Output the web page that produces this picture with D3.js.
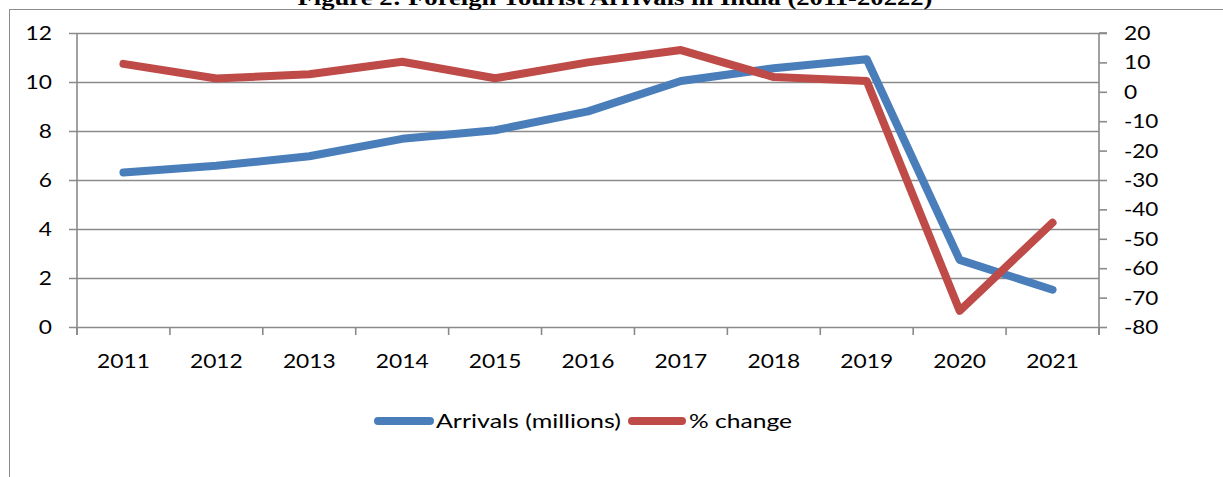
<!DOCTYPE html>
<html><head><meta charset="utf-8">
<script src="https://cdn.jsdelivr.net/npm/d3@7"></script>
<style>
html,body{margin:0;padding:0;background:#fff;}
svg{display:block;}
text{font-family:Lato, "Open Sans", sans-serif;fill:#000;}
</style></head>
<body>
<script>
const years = ["2011","2012","2013","2014","2015","2016","2017","2018","2019","2020","2021"];
const arrivals = [6.31, 6.58, 6.97, 7.68, 8.03, 8.80, 10.04, 10.56, 10.93, 2.74, 1.52];
const pctChange = [9.5, 4.5, 6.0, 10.2, 4.6, 10.0, 14.2, 5.0, 3.7, -74.5, -44.5];
const leftTicks = [0, 2, 4, 6, 8, 10, 12];
const rightTicks = [20, 10, 0, -10, -20, -30, -40, -50, -60, -70, -80];
const titleText = "Figure 2: Foreign Tourist Arrivals in India (2011-20222)";
const seriesNames = ["Arrivals (millions)", "% change"];
const colors = ["#4a7ebb", "#be4b48"];

const W = 1223, H = 477;
const L = 77, R = 1099, T = 33, B = 327;
const gridColor = "#8a8a8a";
const FS = "20px";
const digitW = 13.2;

const svg = d3.select("body").append("svg").attr("width", W).attr("height", H);

// frame
svg.append("rect").attr("x", 9.5).attr("y", 9.5).attr("width", W).attr("height", H)
  .attr("fill", "none").attr("stroke", "#8c8c8c").attr("stroke-width", 1);

// title (clipped at top as in the reference)
svg.append("text").attr("x", 615).attr("y", 5).attr("text-anchor", "middle")
  .style("font-family", "'Liberation Serif', serif").style("font-weight", "bold")
  .style("font-size", "21px").attr("textLength", 635).attr("lengthAdjust", "spacingAndGlyphs")
  .text(titleText);

const x = d3.scaleBand().domain(years).range([L, R]).padding(0);
const yL = d3.scaleLinear().domain([0, 12]).range([B, T]);
const yR = d3.scaleLinear().domain([-80, 20]).range([B, T]);

function fitText(sel) {
  sel.each(function () {
    const s = this.textContent;
    let w = 0;
    for (const c of s) w += (c === "-" ? 8 : digitW);
    d3.select(this).attr("textLength", w).attr("lengthAdjust", "spacingAndGlyphs");
  });
}

// left gridlines + labels
const gL = svg.append("g").attr("transform", `translate(${L},0)`)
  .call(d3.axisLeft(yL).tickValues(leftTicks).tickSize(8).tickPadding(17));
gL.select(".domain").remove();
gL.selectAll(".tick line").attr("x1", -8).attr("x2", R - L).attr("stroke", gridColor).attr("stroke-width", 1.6);
gL.selectAll(".tick text").style("font-size", FS).attr("font-family", null);
fitText(gL.selectAll(".tick text"));

// right axis
const gR = svg.append("g").attr("transform", `translate(${R},0)`)
  .call(d3.axisRight(yR).tickValues(rightTicks).tickSize(8).tickPadding(17)
        .tickFormat(d => d < 0 ? "-" + Math.abs(d) : d));
gR.select(".domain").remove();
gR.selectAll(".tick line").attr("stroke", gridColor).attr("stroke-width", 1.6);
gR.selectAll(".tick text").style("font-size", FS).attr("font-family", null);
fitText(gR.selectAll(".tick text"));

// top gridline extends to right tick
svg.append("line").attr("x1", R).attr("x2", R + 8).attr("y1", yL(12)).attr("y2", yL(12))
  .attr("stroke", gridColor).attr("stroke-width", 1.6);

// vertical axis lines
[L, R].forEach(px => svg.append("line").attr("x1", px).attr("x2", px).attr("y1", T).attr("y2", B + 8)
  .attr("stroke", gridColor).attr("stroke-width", 1.6));

// category ticks at band edges
const edges = years.map(d => x(d)).concat([x(years[years.length - 1]) + x.bandwidth()]);
svg.append("g").selectAll("line").data(edges).join("line")
  .attr("x1", d => d).attr("x2", d => d).attr("y1", B).attr("y2", B + 8)
  .attr("stroke", gridColor).attr("stroke-width", 1.6);

// category labels
const gX = svg.append("g").attr("transform", `translate(0,${B})`)
  .call(d3.axisBottom(x).tickSize(0).tickPadding(27));
gX.select(".domain").remove();
gX.selectAll(".tick text").style("font-size", FS).attr("font-family", null);
fitText(gX.selectAll(".tick text"));

// lines
const cx = d => x(d) + x.bandwidth() / 2;
const lineL = d3.line().x((d, i) => cx(years[i])).y(d => yL(d));
const lineR = d3.line().x((d, i) => cx(years[i])).y(d => yR(d));
svg.append("path").attr("d", lineL(arrivals)).attr("fill", "none").attr("stroke", colors[0])
  .attr("stroke-width", 8).attr("stroke-linecap", "round").attr("stroke-linejoin", "round");
svg.append("path").attr("d", lineR(pctChange)).attr("fill", "none").attr("stroke", colors[1])
  .attr("stroke-width", 8).attr("stroke-linecap", "round").attr("stroke-linejoin", "round");

// legend
const legendY = 421;
const leg = [
  {x1: 378, x2: 430, tx: 436, tw: 185, name: seriesNames[0], color: colors[0]},
  {x1: 632, x2: 682, tx: 689, tw: 103, name: seriesNames[1], color: colors[1]}
];
leg.forEach(l => {
  svg.append("line").attr("x1", l.x1).attr("x2", l.x2).attr("y1", legendY).attr("y2", legendY)
    .attr("stroke", l.color).attr("stroke-width", 8).attr("stroke-linecap", "round");
  svg.append("text").attr("x", l.tx).attr("y", legendY).attr("dy", "0.35em")
    .style("font-size", FS).attr("textLength", l.tw).attr("lengthAdjust", "spacingAndGlyphs")
    .text(l.name);
});
</script>
</body></html>
